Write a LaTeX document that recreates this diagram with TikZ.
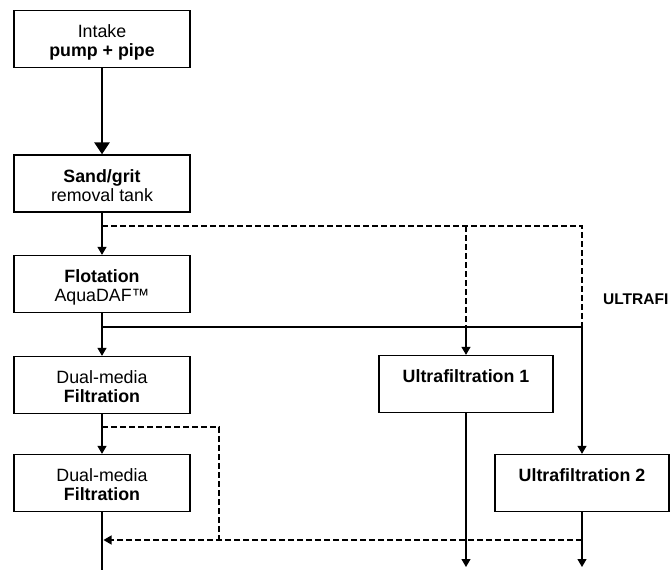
\documentclass[tikz,border=0pt]{standalone}
\usepackage{fontspec}
\setmainfont{Liberation Sans}
\usetikzlibrary{arrows.meta}
\newcommand\boxtxt[2]{\rule{0pt}{21pt}#1\\#2\rule[-5pt]{0pt}{5pt}}
\begin{document}
\begin{tikzpicture}[x=1pt,y=-1pt,
  box/.style={draw, line width=1.3pt, rectangle, minimum width=176pt, minimum height=57pt,
    inner sep=0pt, align=center, font=\fontsize{17.8}{19}\selectfont},
  uf/.style={box, minimum width=174pt, font=\fontsize{17.8}{19}\selectfont\bfseries},
  pipe/.style={line width=1.2pt},
  flow/.style={line width=1.2pt, -{Triangle[width=9pt,length=8pt]}},
  dsh/.style={line width=1.2pt, dash pattern=on 6pt off 3pt},
  big/.style={line width=2.6pt, -{Triangle[width=15pt,length=12pt]}},
  lbl/.style={font=\fontsize{15.5}{17}\selectfont\bfseries, inner sep=0pt, anchor=base west}]
\clip (0,0) rectangle (670,570);
\useasboundingbox (0,0) rectangle (670,570);

% boxes
\node[box] (intake) at (102,39)  {\boxtxt{Intake}{\textbf{pump + pipe}}};
\node[box] (sand)   at (102,183.5) {\boxtxt{\textbf{Sand/grit}}{removal tank}};
\node[box] (flot)   at (102,284) {\boxtxt{\textbf{Flotation}}{AquaDAF™}};
\node[box] (dm1)    at (102,385) {\boxtxt{Dual-media}{\textbf{Filtration}}};
\node[box] (dm2)    at (102,483) {\boxtxt{Dual-media}{\textbf{Filtration}}};
\node[uf]  (uf1)    at (466,384) {\boxtxt{Ultrafiltration 1}{}};
\node[uf]  (uf2)    at (582,483) {\boxtxt{Ultrafiltration 2}{}};
\node[lbl] (ultra)  at (603,304) {ULTRAFI};

% junction coordinates
\coordinate (a1) at (102,226);
\coordinate (a2) at (466,226);
\coordinate (a3) at (582,226);
\coordinate (b1) at (102,327);
\coordinate (b2) at (466,327);
\coordinate (b3) at (582,327);
\coordinate (c1) at (102,427);
\coordinate (c2) at (219,427);
\coordinate (c3) at (219,540);
\coordinate (r1) at (582,540);
\coordinate (r0) at (103.5,540);
\coordinate (out0) at (102,572);
\coordinate (out1) at (466,567);
\coordinate (out2) at (582,567);

% main flow
\draw[big] (intake) -- (sand);
\draw[flow] (sand) -- (flot);
\draw[flow] (flot) -- (dm1);
\draw[flow] (dm1) -- (dm2);
\draw[line width=2.6pt] (dm2) -- (out0);

% bypass after sand/grit
\draw[dsh] (a1) -- (a3) -- (b3);
\draw[dsh] (a2) -- (b2);
% after flotation
\draw[pipe] (b1) -- (b3);
\draw[flow] (b2) -- (uf1);
\draw[flow] (b3) -- (uf2);

% dashed return
\draw[dsh] (c1) -- (c2) -- (c3);
\draw[dsh, -{Triangle[width=9pt,length=8pt]}] (r1) -- (r0);

% outlets
\draw[flow] (uf1) -- (out1);
\draw[flow] (uf2) -- (out2);
\end{tikzpicture}
\end{document}
